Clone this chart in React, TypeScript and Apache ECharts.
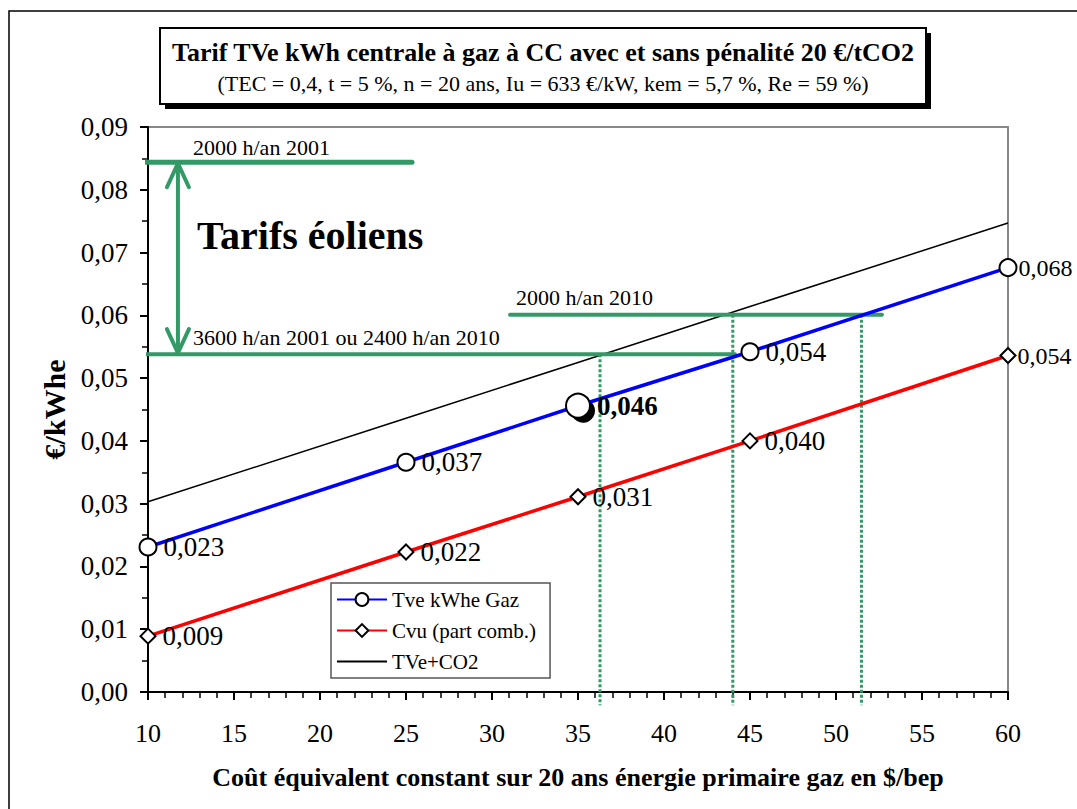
import React, { useEffect, useRef } from "react";
import * as echarts from "echarts";

const FONT = "'Liberation Serif', 'Times New Roman', Times, serif";
const GREEN = "#339966";

// Data
const gasCost = [10, 25, 35, 45, 60];
const tveGaz = [0.0231, 0.0366, 0.0456, 0.0542, 0.0676];
const cvuComb = [0.0089, 0.0223, 0.0311, 0.04, 0.0536];
const tveCo2 = [0.0303, 0.0436, 0.0525, 0.0614, 0.0747];
const highlightIndex = 2;

const seriesNames = ["Tve kWhe Gaz", "Cvu (part comb.)", "TVe+CO2"];
const xTitle = "Coût équivalent constant sur 20 ans énergie primaire gaz en $/bep";
const yTitle = "€/kWhe";
const title = "Tarif TVe kWh centrale à gaz à CC avec et sans pénalité 20 €/tCO2";
const subtitle = "(TEC = 0,4, t = 5 %, n = 20 ans, Iu = 633 €/kW, kem = 5,7 %, Re = 59 %)";

// Wind tariff annotation levels (€/kWhe) and extents ($/bep)
const tariff2001 = 0.0844;
const tariffLow = 0.0538;
const tariff2010 = 0.0601;
const tariff2001Span = [9.53, 25.35];
const tariffLowSpan = [9.53, 44.13];
const tariff2010Span = [31.05, 52.67];
const dropX = [36.28, 44.0, 51.48];
const dropLevels = [tariffLow, tariff2010, tariff2010];
const dropBottom = -0.0021;
const arrowX = 11.74;
const arrowDx = 0.64;
const arrowDy = 0.0038;

const fmt = (v: number, d: number) => v.toFixed(d).replace(".", ",");

export default function App() {
  const ref = useRef<HTMLDivElement>(null);

  useEffect(() => {
    document.body.style.margin = "0";
    if (!ref.current) return;
    const chart = echarts.init(ref.current, undefined, { renderer: "svg" });
    const lastIndex = gasCost.length - 1;
    const edgeLabel = { distance: 1, fontSize: 24 };

    const labelStyle = {
      show: true,
      position: "right",
      distance: 6,
      fontFamily: FONT,
      fontSize: 27,
      color: "#000",
      formatter: (p: any) => fmt(p.value[1], 3),
    };

    const greenLine = (data: number[][], width: number, extra: any = {}) => ({
      type: "line",
      data,
      symbol: "none",
      clip: false,
      silent: true,
      z: 4,
      lineStyle: { color: GREEN, width, cap: "round", ...extra },
      emphasis: { disabled: true },
    });

    const option: any = {
      animation: false,
      backgroundColor: "#fff",
      grid: {
        left: 148,
        right: 69,
        top: 127,
        bottom: 117,
        show: true,
        borderColor: "#888",
        borderWidth: 2,
      },
      xAxis: {
        type: "value",
        min: 10,
        max: 60,
        interval: 5,
        name: xTitle,
        nameLocation: "middle",
        nameGap: 72,
        nameTextStyle: { fontFamily: FONT, fontSize: 26, fontWeight: "bold", color: "#000" },
        axisLine: { onZero: false, lineStyle: { color: "#000", width: 2 } },
        axisTick: { length: 8, lineStyle: { color: "#000", width: 2 } },
        minorTick: { show: true, splitNumber: 5, length: 6, lineStyle: { color: "#000", width: 1.5 } },
        splitLine: { show: false },
        axisLabel: { fontFamily: FONT, fontSize: 26, color: "#000", margin: 28 },
      },
      yAxis: {
        type: "value",
        min: 0,
        max: 0.09,
        interval: 0.01,
        name: yTitle,
        nameLocation: "middle",
        nameGap: 73,
        nameRotate: 90,
        nameTextStyle: { fontFamily: FONT, fontSize: 30, fontWeight: "bold", color: "#000" },
        axisLine: { show: true, onZero: false, lineStyle: { color: "#000", width: 2 } },
        axisTick: { show: true, length: 8, lineStyle: { color: "#000", width: 2 } },
        minorTick: { show: true, splitNumber: 2, length: 6, lineStyle: { color: "#000", width: 1.5 } },
        splitLine: { show: false },
        axisLabel: {
          fontFamily: FONT,
          fontSize: 27,
          color: "#000",
          margin: 20,
          formatter: (v: number) => fmt(v, 2),
        },
      },
      legend: {
        data: [
          seriesNames[0],
          seriesNames[1],
          { name: seriesNames[2], icon: "path://M0,0L50,0L50,2L0,2Z" },
        ],
        orient: "vertical",
        left: 331,
        top: 583,
        backgroundColor: "#fff",
        borderColor: "#555",
        borderWidth: 1.5,
        borderRadius: 0,
        padding: [6, 14, 6, 5],
        itemGap: 10,
        itemWidth: 50,
        itemHeight: 16,
        textStyle: { fontFamily: FONT, fontSize: 21, color: "#000" },
      },
      series: [
        greenLine([[tariff2001Span[0], tariff2001], [tariff2001Span[1], tariff2001]], 5),
        greenLine([[tariffLowSpan[0], tariffLow], [tariffLowSpan[1], tariffLow]], 4),
        greenLine([[tariff2010Span[0], tariff2010], [tariff2010Span[1], tariff2010]], 4),
        greenLine([[arrowX, tariff2001 - 0.0002], [arrowX, tariffLow + 0.0002]], 4),
        greenLine(
          [
            [arrowX - arrowDx, tariff2001 - 0.0002 - arrowDy],
            [arrowX, tariff2001 - 0.0002],
            [arrowX + arrowDx, tariff2001 - 0.0002 - arrowDy],
          ],
          4,
          { join: "round" }
        ),
        greenLine(
          [
            [arrowX - arrowDx, tariffLow + 0.0002 + arrowDy],
            [arrowX, tariffLow + 0.0002],
            [arrowX + arrowDx, tariffLow + 0.0002 + arrowDy],
          ],
          4,
          { join: "round" }
        ),
        ...dropX.map((x, i) =>
          greenLine([[x, dropLevels[i]], [x, dropBottom]], 3, { type: [3, 2], cap: "butt" })
        ),
        {
          name: seriesNames[2],
          type: "line",
          data: gasCost.map((x, i) => [x, tveCo2[i]]),
          symbol: "none",
          z: 3,
          lineStyle: { color: "#000", width: 1.5 },
          itemStyle: { color: "#000" },
          emphasis: { disabled: true },
        },
        {
          type: "scatter",
          data: [[gasCost[highlightIndex], tveGaz[highlightIndex]]],
          symbol: "circle",
          symbolSize: 24,
          symbolOffset: [5, 5],
          itemStyle: { color: "#000", opacity: 1 },
          silent: true,
          z: 4,
        },
        {
          name: seriesNames[0],
          type: "line",
          data: gasCost.map((x, i) =>
            i === highlightIndex
              ? { value: [x, tveGaz[i]], symbolSize: 24, label: { fontWeight: "bold" } }
              : i === lastIndex
              ? { value: [x, tveGaz[i]], label: edgeLabel }
              : [x, tveGaz[i]]
          ),
          symbol: "circle",
          symbolSize: 17,
          showAllSymbol: true,
          z: 5,
          lineStyle: { color: "#0000ff", width: 3.5 },
          itemStyle: { color: "#fff", borderColor: "#000", borderWidth: 2 },
          label: labelStyle,
          emphasis: { disabled: true },
        },
        {
          name: seriesNames[1],
          type: "line",
          data: gasCost.map((x, i) =>
            i === lastIndex ? { value: [x, cvuComb[i]], label: edgeLabel } : [x, cvuComb[i]]
          ),
          symbol: "diamond",
          symbolSize: 15,
          showAllSymbol: true,
          z: 5,
          lineStyle: { color: "#ff0000", width: 3.5 },
          itemStyle: { color: "#fff", borderColor: "#000", borderWidth: 2 },
          label: labelStyle,
          emphasis: { disabled: true },
        },
      ],
      graphic: [
        {
          type: "rect",
          silent: true,
          z: 0,
          shape: { x: 9, y: 11, width: 1200, height: 1000 },
          style: { fill: "none", stroke: "#000", lineWidth: 1.5 },
        },
        {
          type: "rect",
          silent: true,
          z: 10,
          shape: { x: 165, y: 33, width: 766, height: 76 },
          style: { fill: "#000" },
        },
        {
          type: "rect",
          silent: true,
          z: 11,
          shape: { x: 160, y: 28, width: 766, height: 76 },
          style: { fill: "#fff", stroke: "#000", lineWidth: 2 },
        },
        {
          type: "text",
          silent: true,
          z: 12,
          x: 543,
          y: 52,
          style: {
            text: title,
            font: `bold 26px ${FONT}`,
            fill: "#000",
            textAlign: "center",
            textVerticalAlign: "middle",
            align: "center",
            verticalAlign: "middle",
          },
        },
        {
          type: "text",
          silent: true,
          z: 12,
          x: 543,
          y: 83,
          style: {
            text: subtitle,
            font: `22px ${FONT}`,
            fill: "#000",
            textAlign: "center",
            textVerticalAlign: "middle",
            align: "center",
            verticalAlign: "middle",
          },
        },
        ...[
          { text: "2000 h/an 2001", x: 193, y: 147, font: `22px ${FONT}` },
          { text: "3600 h/an 2001 ou 2400 h/an 2010", x: 193, y: 337, font: `22px ${FONT}` },
          { text: "2000 h/an 2010", x: 516, y: 297, font: `22px ${FONT}` },
          { text: "Tarifs éoliens", x: 197, y: 235, font: `bold 40px ${FONT}` },
        ].map((t) => ({
          type: "text",
          silent: true,
          z: 12,
          x: t.x,
          y: t.y,
          style: {
            text: t.text,
            font: t.font,
            fill: "#000",
            textAlign: "left",
            textVerticalAlign: "middle",
            align: "left",
            verticalAlign: "middle",
          },
        })),
      ],
    };

    chart.setOption(option);
    return () => chart.dispose();
  }, []);

  return <div ref={ref} style={{ width: 1077, height: 809 }} />;
}
